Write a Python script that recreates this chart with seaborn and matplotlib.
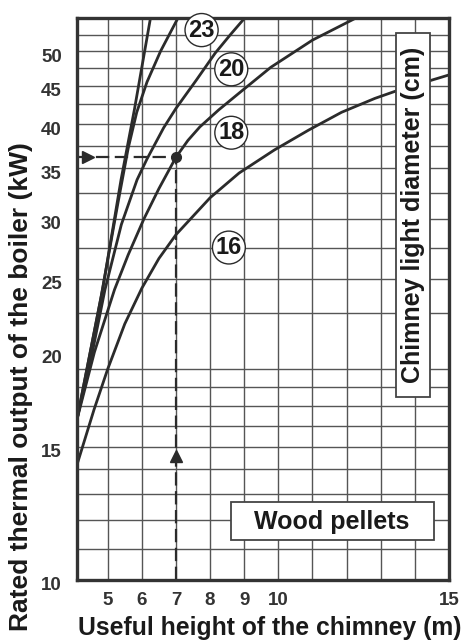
import numpy as np
import pandas as pd
import matplotlib
matplotlib.use('Agg')
import matplotlib.pyplot as plt
import seaborn as sns
from matplotlib.patches import Rectangle
from matplotlib.transforms import ScaledTranslation

# Кривые: высота дымохода (м) -> мощность котла (кВт), по диаметрам
h_steep = [4.1, 4.85, 5.39, 5.78, 6.25]
p_steep = [16.3, 24.2, 33.8, 41.8, 55.2]

h_23 = [4.1, 4.8, 5.3, 5.6, 5.85, 6.15, 6.55, 7.05]
p_23 = [16.3, 23.6, 31.5, 37.2, 41.5, 45.5, 50.0, 55.2]

h_20 = [4.1, 4.55, 4.92, 5.4, 5.86, 6.15, 6.64, 7.0, 7.6, 8.15, 8.6, 9.0]
p_20 = [16.3, 20.0, 24.2, 29.5, 33.8, 36.0, 39.6, 42.0, 45.8, 49.7, 52.6, 55.2]

h_18 = [4.1, 4.61, 5.2, 5.6, 6.06, 6.5, 7.0, 7.35, 7.7, 8.25, 8.85, 9.78, 11.0, 12.24]
p_18 = [16.3, 20.0, 24.2, 26.9, 30.0, 32.9, 36.2, 38.1, 39.7, 41.8, 44.0, 47.6, 51.7, 55.2]

h_16 = [4.1, 4.6, 5.0, 5.5, 6.0, 6.5, 7.0, 8.0, 8.85, 9.88, 10.88, 11.85, 12.83, 13.52, 15.0]
p_16 = [14.2, 16.8, 19.0, 21.8, 24.3, 26.6, 28.6, 32.0, 34.5, 37.0, 39.3, 41.5, 43.3, 44.4, 46.5]

curves = [(h_steep, p_steep), (h_23, p_23), (h_20, p_20), (h_18, p_18), (h_16, p_16)]

# Подписи диаметров (см)
diam_labels = ['23', '20', '18', '16']
diam_x = [7.75, 8.62, 8.62, 8.55]
diam_y = [53.3, 47.3, 39.0, 27.5]

# Пример чтения: 7 м -> 36 кВт
ex_h = 7.0
ex_p = 36.2

x_ticks = [5, 6, 7, 8, 9, 10, 15]
y_ticks = [10, 15, 20, 25, 30, 35, 40, 45, 50]
x_grid = list(range(5, 15))
y_grid = list(range(11, 20)) + [22.5, 25, 27.5, 30, 32.5, 35, 37.5, 40, 42.5, 45, 47.5, 50, 52.5]

sns.set_theme(style='white')
plt.rcParams['font.family'] = ['Liberation Sans', 'DejaVu Sans']
plt.rcParams['font.weight'] = 'bold'

ink = '#2b2b2b'
txt = '#1a1a1a'
fig = plt.figure(figsize=(4.63, 6.42), dpi=100)
ax = fig.add_axes([0.1663, 0.0966, 0.8035, 0.8754])

ax.set_yscale('log')
ax.set_xlim(4.1, 15)
ax.set_ylim(10, 55.3)

for g in x_grid:
    ax.axvline(g, color='#555555', lw=1.0, zorder=1)
for g in y_grid:
    ax.axhline(g, color='#555555', lw=1.0, zorder=1)

for hx, py in curves:
    df = pd.DataFrame({'h': hx, 'p': py})
    sns.lineplot(data=df, x='h', y='p', ax=ax, color=ink, lw=2.0,
                 sort=False, estimator=None, zorder=3)

# штриховые линии примера
ax.plot([4.1, ex_h], [ex_p, ex_p], ls=(0, (6, 2.5)), color=ink, lw=1.6, zorder=4)
ax.plot([ex_h, ex_h], [10, ex_p], ls=(0, (6, 2.5)), color=ink, lw=1.6, zorder=4)
ax.plot([ex_h], [ex_p], 'o', color=ink, ms=7, zorder=5)
ax.plot([4.42], [ex_p], '>', color=ink, ms=8, zorder=5)
ax.plot([ex_h], [14.6], '^', color=ink, ms=8, zorder=5)

for t, xx, yy in zip(diam_labels, diam_x, diam_y):
    ax.text(xx, yy, t, ha='center', va='center', fontsize=17, fontweight='bold',
            color=txt, zorder=9,
            bbox=dict(boxstyle='circle,pad=0.14', fc='white', ec=ink, lw=1.0))

# рамки с подписями
ax.add_patch(Rectangle((0.8575, 0.3256), 0.0915, 0.647, transform=ax.transAxes,
                       fc='white', ec='#444444', lw=1.3, zorder=6))
ax.text(0.904, 0.649, 'Chimney light diameter (cm)', transform=ax.transAxes,
        rotation=90, ha='center', va='center', fontsize=18, fontweight='bold',
        color=txt, zorder=7)
ax.add_patch(Rectangle((0.414, 0.0712), 0.546, 0.0678, transform=ax.transAxes,
                       fc='white', ec='#444444', lw=1.3, zorder=6))
ax.text(0.6855, 0.104, 'Wood pellets', transform=ax.transAxes,
        ha='center', va='center', fontsize=18, fontweight='bold',
        color=txt, zorder=7)

ax.set_xticks(x_ticks)
ax.set_xticklabels([str(v) for v in x_ticks])
ax.set_yticks(y_ticks)
ax.set_yticklabels([str(v) for v in y_ticks])
ax.yaxis.set_minor_locator(matplotlib.ticker.NullLocator())
ax.tick_params(axis='both', length=0, labelsize=13.5, colors='#333333')
ax.tick_params(axis='x', pad=9)
ax.tick_params(axis='y', pad=11)
for lab in ax.get_yticklabels():
    lab.set_fontweight('bold')
    lab.set_transform(lab.get_transform() + ScaledTranslation(0, -4 / 100, fig.dpi_scale_trans))
for lab in ax.get_xticklabels():
    lab.set_fontweight('bold')

xlab = ax.set_xlabel('Useful height of the chimney (m)', fontsize=17.8, fontweight='bold',
                     color=txt)
ax.xaxis.set_label_coords(0.519, -0.064)
ylab = ax.set_ylabel('Rated thermal output of the boiler (kW)', fontsize=19, fontweight='bold',
                     color=txt)
ax.yaxis.set_label_coords(-0.15, 0.345)
ylab.set_va('center')

for s in ax.spines.values():
    s.set_color('#333333')
    s.set_linewidth(2.4)
    s.set_zorder(8)

fig.savefig('out.png', dpi=100)
